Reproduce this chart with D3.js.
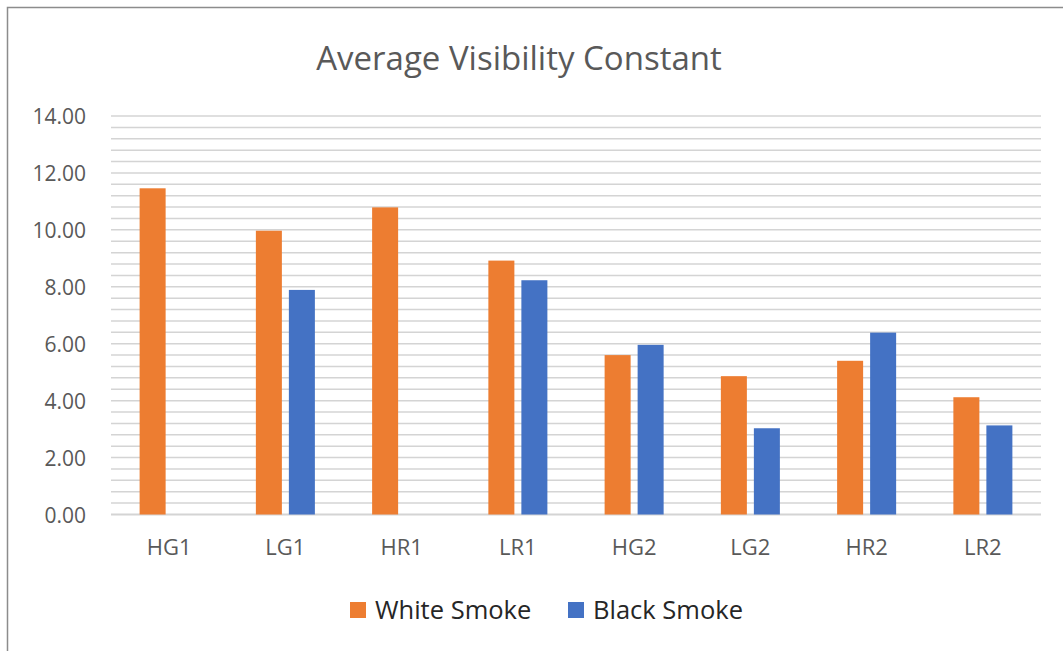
<!DOCTYPE html>
<html>
<head>
<meta charset="utf-8">
<script src="https://cdn.jsdelivr.net/npm/d3@7"></script>
<style>
  body { margin: 0; background: #fff; }
  svg { display: block; }
</style>
</head>
<body>
<svg id="chart" width="1063" height="651"></svg>
<script>
// data
var categories = ["HG1", "LG1", "HR1", "LR1", "HG2", "LG2", "HR2", "LR2"];
var seriesNames = ["White Smoke", "Black Smoke"];
var whiteSmoke = [11.46, 9.97, 10.79, 8.92, 5.60, 4.86, 5.40, 4.12];
var blackSmoke = [null, 7.89, null, 8.23, 5.96, 3.03, 6.39, 3.13];
var colors = ["#ed7d31", "#4472c4"];
var yTicks = [0, 2, 4, 6, 8, 10, 12, 14];

var svg = d3.select("#chart");
var font = "'Open Sans', 'Noto Sans', sans-serif";

// chart frame (runs off the right and bottom of the shot)
svg.append("rect")
  .attr("x", 7.5).attr("y", 7.5)
  .attr("width", 1100).attr("height", 700)
  .attr("fill", "#fff")
  .attr("stroke", "#8c8c8c").attr("stroke-width", 1.5);

var plotL = 111, plotR = 1041, plotT = 116, plotB = 514.5;

var y = d3.scaleLinear().domain([0, 14]).range([plotB, plotT]);
var x0 = d3.scaleBand().domain(categories).range([plotL, plotR]).padding(0);
var x1 = d3.scaleBand().domain(seriesNames).range([0, x0.bandwidth()])
  .paddingInner(0.212).paddingOuter(0.867);

// gridlines every 0.4
var gridVals = d3.range(0, 36).map(function (i) { return +(i * 0.4).toFixed(2); });
svg.append("g").selectAll("line")
  .data(gridVals)
  .enter().append("line")
  .attr("x1", plotL).attr("x2", plotR)
  .attr("y1", function (d) { return y(d); })
  .attr("y2", function (d) { return y(d); })
  .attr("stroke", "#d4d4d4")
  .attr("stroke-width", function (d) { return d == 0 ? 2 : 1.5; });

// y axis labels
var yAxis = svg.append("g")
  .attr("transform", "translate(86,1)")
  .call(d3.axisLeft(y).tickValues(yTicks).tickFormat(d3.format(".2f")).tickSize(0).tickPadding(0));
yAxis.select(".domain").remove();
yAxis.selectAll("text")
  .attr("font-family", font).attr("font-size", 21).attr("fill", "#595959");

// category labels
var xAxis = svg.append("g")
  .attr("transform", "translate(0," + plotB + ")")
  .call(d3.axisBottom(x0).tickSize(0).tickPadding(25));
xAxis.select(".domain").remove();
xAxis.selectAll("text")
  .attr("font-family", font).attr("font-size", 22).attr("fill", "#595959");

// bars
var rows = categories.map(function (c, i) {
  return { cat: c, vals: [whiteSmoke[i], blackSmoke[i]] };
});
var groups = svg.append("g").selectAll("g")
  .data(rows)
  .enter().append("g")
  .attr("transform", function (d) { return "translate(" + x0(d.cat) + ",0)"; });

groups.selectAll("rect")
  .data(function (d) {
    return d.vals.map(function (v, j) { return { name: seriesNames[j], v: v, j: j }; })
      .filter(function (e) { return e.v != null; });
  })
  .enter().append("rect")
  .attr("x", function (d) { return x1(d.name); })
  .attr("width", x1.bandwidth())
  .attr("y", function (d) { return y(d.v); })
  .attr("height", function (d) { return y(0) - y(d.v); })
  .attr("fill", function (d) { return colors[d.j]; });

// title
svg.append("text")
  .attr("x", 519).attr("y", 70)
  .attr("text-anchor", "middle")
  .attr("font-family", font).attr("font-size", 33)
  .attr("fill", "#595959")
  .text("Average Visibility Constant");

// legend
var legendX = [350, 568];
var legend = svg.append("g").selectAll("g")
  .data(seriesNames)
  .enter().append("g")
  .attr("transform", function (d, i) { return "translate(" + legendX[i] + ",602)"; });
legend.append("rect")
  .attr("width", 16).attr("height", 16)
  .attr("fill", function (d, i) { return colors[i]; });
legend.append("text")
  .attr("x", 25).attr("y", 16.5)
  .attr("font-family", font).attr("font-size", 25.5)
  .attr("fill", "#262626")
  .text(function (d) { return d; });
</script>
</body>
</html>
